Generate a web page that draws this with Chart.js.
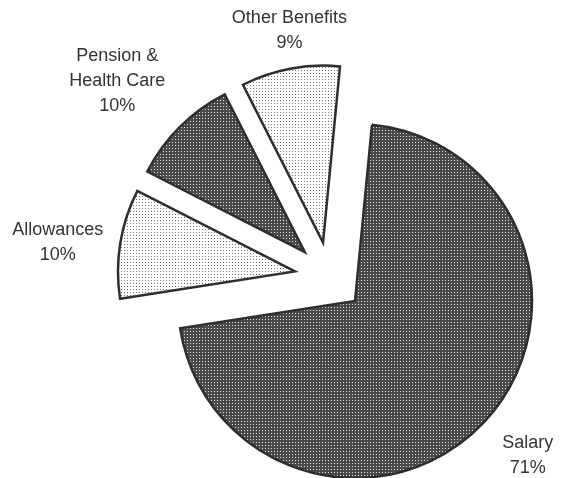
<!DOCTYPE html>
<html lang="en">
  <head>
    <meta charset="UTF-8" />
    <script src="https://cdn.jsdelivr.net/npm/chart.js"></script>
    <title>Compensation breakdown</title>
    <style>
      body { margin: 0; background: #fff; }
    </style>
  </head>
  <body>
    <div style="width: 563px; height: 478px; position: relative">
      <canvas id="grafico"></canvas>
    </div>

    <script>
      // data
      const categorias = ["Salary", "Allowances", ["Pension &", "Health Care"], "Other Benefits"];
      const valores = [71, 10, 10, 9];
      const percentuais = ["71%", "10%", "10%", "9%"];

      // dotted fills, like the printed screen tones
      function padrao(fundo, ponto) {
        const c = document.createElement("canvas");
        c.width = 3;
        c.height = 3;
        const g = c.getContext("2d");
        g.fillStyle = fundo;
        g.fillRect(0, 0, 3, 3);
        g.fillStyle = ponto;
        g.fillRect(1, 1, 1, 1);
        return g.createPattern(c, "repeat");
      }
      const escuro = padrao("#4a4a4a", "#e0e0e0");
      const claro = padrao("#ffffff", "#747474");

      // pulled-out slices: each moves out along its own middle and the whole group moves out too
      const explodir = [false, true, true, true];
      const afastamento = 35;
      const explodePlugin = {
        id: "explode",
        afterDatasetUpdate(chart, args) {
          const arcs = args.meta.data;
          let ini = Infinity, fim = -Infinity;
          arcs.forEach((a, i) => {
            if (explodir[i]) {
              ini = Math.min(ini, a.startAngle);
              fim = Math.max(fim, a.endAngle);
            }
          });
          const grupo = (ini + fim) / 2;
          arcs.forEach((a, i) => {
            if (!explodir[i]) return;
            const meio = (a.startAngle + a.endAngle) / 2;
            a.x += afastamento * (Math.cos(meio) + Math.cos(grupo));
            a.y += afastamento * (Math.sin(meio) + Math.sin(grupo));
          });
        },
      };

      // labels outside each slice
      const distRotulo = [232, 239, 254, 215];
      const ajusteAngulo = [-1.4, -2.1, -2.7, 1.7];
      const rotulosPlugin = {
        id: "rotulos",
        afterDatasetsDraw(chart) {
          const ctx = chart.ctx;
          const arcs = chart.getDatasetMeta(0).data;
          ctx.save();
          ctx.fillStyle = "#333";
          ctx.font = "18px 'Liberation Sans', Arial, sans-serif";
          ctx.textAlign = "center";
          ctx.textBaseline = "middle";
          arcs.forEach((a, i) => {
            const ang = (a.startAngle + a.endAngle) / 2 + (ajusteAngulo[i] * Math.PI) / 180;
            const x = a.x + distRotulo[i] * Math.cos(ang);
            const y = a.y + distRotulo[i] * Math.sin(ang);
            const linhas = [].concat(categorias[i], percentuais[i]);
            linhas.forEach((t, k) => {
              ctx.fillText(t, x, y + (k - (linhas.length - 1) / 2) * 25);
            });
          });
          ctx.restore();
        },
      };

      const ctx = document.getElementById("grafico");
      const grafico1 = new Chart(ctx, {
        type: "pie",
        data: {
          labels: categorias,
          datasets: [
            {
              data: valores,
              backgroundColor: [escuro, claro, escuro, claro],
              borderColor: "#2e2e2e",
              borderWidth: 2.5,
              borderJoinStyle: "miter",
              radius: 177,
            },
          ],
        },
        options: {
          responsive: true,
          maintainAspectRatio: false,
          animation: false,
          events: [],
          rotation: 5.5,
          layout: { padding: { left: 147, right: 0, top: 124, bottom: 0 } },
          plugins: {
            legend: { display: false },
            tooltip: { enabled: false },
          },
        },
        plugins: [explodePlugin, rotulosPlugin],
      });
    </script>
  </body>
</html>
